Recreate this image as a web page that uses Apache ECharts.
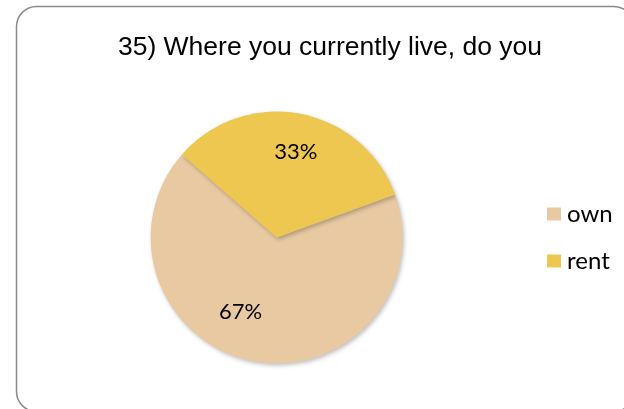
<!DOCTYPE html>
<html>
<head>
<meta charset="utf-8">
<script src="https://cdn.jsdelivr.net/npm/echarts@6/dist/echarts.min.js"></script>
<style>html,body{margin:0;padding:0;background:#fff;}#c{width:624px;height:409px;}</style>
</head>
<body>
<div id="c"></div>
<script>
const titleText = "35) Where you currently live, do you";
const categories = ["own", "rent"];
const values = [67, 33];
const colors = ["#E8C9A2", "#EDC74F"];
const labelOffsets = [[-24, 10], [7, -21]];

const chart = echarts.init(document.getElementById('c'), null, {renderer: 'canvas'});
chart.setOption({
  animation: false,
  backgroundColor: '#ffffff',
  title: {
    text: titleText,
    left: 325, top: 29, textAlign: 'center',
    textStyle: {fontFamily: 'Liberation Sans', fontSize: 26.5, fontWeight: 'normal', color: '#000'}
  },
  legend: {
    orient: 'vertical', left: 542, top: 197,
    itemWidth: 14, itemHeight: 13, itemGap: 23,
    icon: 'rect',
    textStyle: {fontFamily: 'Lato', fontSize: 24, color: '#000', padding: [0,0,0,1]},
    data: categories
  },
  graphic: [{
    type: 'rect', z: 100, silent: true,
    shape: {x: 16.5, y: 6.5, width: 617.5, height: 405, r: 20},
    style: {fill: 'none', stroke: '#8a8a8a', lineWidth: 1.5}
  }],
  series: [{
    type: 'pie',
    center: [276.7, 237.5], radius: 126,
    startAngle: 20, clockwise: true,
    label: {show: true, position: 'inside', formatter: '{d}%', fontFamily: 'Lato', fontSize: 22, color: '#000'},
    labelLine: {show: false},
    emphasis: {disabled: true},
    itemStyle: {shadowBlur: 4, shadowOffsetX: 1.5, shadowOffsetY: 2, shadowColor: 'rgba(0,0,0,0.25)'},
    data: categories.map((n, i) => ({
      name: n, value: values[i],
      itemStyle: {color: colors[i]},
      label: {offset: labelOffsets[i]}
    }))
  }]
});
</script>
</body>
</html>
